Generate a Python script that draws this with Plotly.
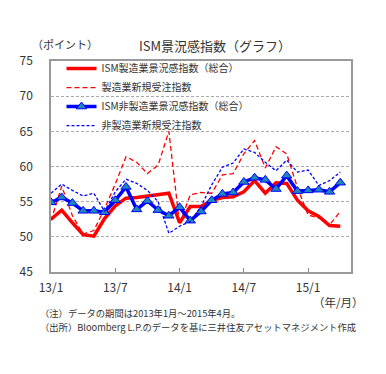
import plotly.graph_objects as go

months = ["13/1","13/2","13/3","13/4","13/5","13/6","13/7","13/8","13/9","13/10","13/11","13/12",
          "14/1","14/2","14/3","14/4","14/5","14/6","14/7","14/8","14/9","14/10","14/11","14/12",
          "15/1","15/2","15/3","15/4"]
mfg = [52.5, 53.8, 52.0, 50.3, 50.1, 52.6, 54.4, 55.5, 55.6, 55.8, 56.1, 56.2,
       52.0, 54.3, 54.3, 55.2, 55.6, 55.7, 56.4, 58.0, 56.2, 57.7, 57.6, 55.2,
       53.7, 52.9, 51.6, 51.5]
mfg_orders = [52.3, 57.2, 53.0, 50.4, 50.9, 54.0, 57.5, 61.4, 60.6, 59.0, 60.2, 65.0,
              51.8, 56.0, 56.3, 56.2, 58.8, 59.0, 61.8, 63.7, 59.8, 62.8, 61.8, 57.0,
              53.1, 52.7, 51.7, 53.6]
nonmfg = [54.9, 55.6, 54.8, 53.7, 53.7, 53.5, 55.2, 57.1, 53.9, 55.1, 53.8, 53.0,
          54.2, 52.3, 53.6, 55.2, 56.1, 56.3, 57.8, 58.4, 58.1, 56.8, 58.7, 56.5,
          56.6, 56.7, 56.4, 57.7]
nonmfg_orders = [56.2, 57.5, 56.6, 55.8, 56.2, 53.6, 56.4, 58.2, 57.6, 56.6, 55.0, 50.5,
                 51.5, 52.2, 54.3, 57.4, 59.9, 60.5, 62.5, 62.0, 60.6, 59.4, 60.9, 59.2,
                 59.5, 57.3, 58.0, 59.2]
tick_labels = ["13/1", "13/7", "14/1", "14/7", "15/1"]
y_ticks = [45, 50, 55, 60, 65, 70, 75]

FONT = "Noto Sans CJK JP"
TXT = "#333333"

fig = go.Figure()
fig.add_trace(go.Scatter(x=months, y=mfg, mode="lines", name="ISM製造業景況感指数（総合）",
                         line=dict(color="#ff0000", width=3.5)))
fig.add_trace(go.Scatter(x=months, y=mfg_orders, mode="lines", name="製造業新規受注指数",
                         line=dict(color="#ff0000", width=1.3, dash="5px,3px")))
fig.add_trace(go.Scatter(x=months, y=nonmfg, mode="lines+markers", name="ISM非製造業景況感指数（総合）",
                         line=dict(color="#0000ff", width=3.5),
                         marker=dict(symbol="triangle-up", size=9, color="#1f86b8",
                                     line=dict(color="#0000ff", width=1))))
fig.add_trace(go.Scatter(x=months, y=nonmfg_orders, mode="lines", name="非製造業新規受注指数",
                         line=dict(color="#0000ff", width=1.3, dash="3px,2px")))

# page body has an 8px default margin, so the figure is sized/margined to compensate
fig.update_layout(
    width=378, height=366,
    margin=dict(l=38, r=35, t=53, b=102),
    paper_bgcolor="white", plot_bgcolor="white",
    font=dict(family=FONT, color=TXT, size=11),
    showlegend=True,
    legend=dict(x=0.035, y=1.033, xanchor="left", yanchor="top",
                bgcolor="rgba(255,255,255,0)", font=dict(size=10, color=TXT),
                tracegroupgap=0, itemwidth=30, borderwidth=0),
    xaxis=dict(type="category", categoryorder="array", categoryarray=months,
               range=[0, 28], tickmode="array", tickvals=tick_labels, ticktext=tick_labels,
               ticks="inside", ticklen=4, tickcolor="#888888", showgrid=False,
               showline=True, linecolor="#999999", linewidth=1.5, mirror=True,
               tickfont=dict(size=12, color=TXT), ticklabelstandoff=4, zeroline=False),
    yaxis=dict(range=[45, 75], tickmode="array", tickvals=y_ticks,
               showgrid=True, gridcolor="#aaaaaa", griddash="3px,2px", gridwidth=1,
               showline=True, linecolor="#999999", linewidth=1.5, mirror=True,
               ticks="", tickfont=dict(size=12, color=TXT), ticklabelstandoff=14,
               zeroline=False),
    annotations=[
        dict(text="ISM景況感指数（グラフ）", xref="paper", yref="paper", x=0.548, y=1.072,
             xanchor="center", yanchor="middle", showarrow=False, font=dict(size=13, color=TXT)),
        dict(text="（ポイント）", xref="paper", yref="paper", x=-0.07, y=1.08,
             xanchor="left", yanchor="middle", showarrow=False, font=dict(size=11, color=TXT)),
        dict(text="（年/月）", xref="paper", yref="paper", x=1.05, y=-0.14,
             xanchor="right", yanchor="middle", showarrow=False, font=dict(size=11.5, color=TXT)),
        dict(text="（注）データの期間は2013年1月～2015年4月。", xref="paper", yref="paper",
             x=-0.045, y=-0.195, xanchor="left", yanchor="middle", showarrow=False,
             font=dict(size=9.3, color=TXT)),
        dict(text="（出所）Bloomberg L.P.のデータを基に三井住友アセットマネジメント作成",
             xref="paper", yref="paper", x=-0.045, y=-0.262, xanchor="left", yanchor="middle",
             showarrow=False, font=dict(size=9.3, color=TXT)),
    ],
)

fig.write_html("out.html")
